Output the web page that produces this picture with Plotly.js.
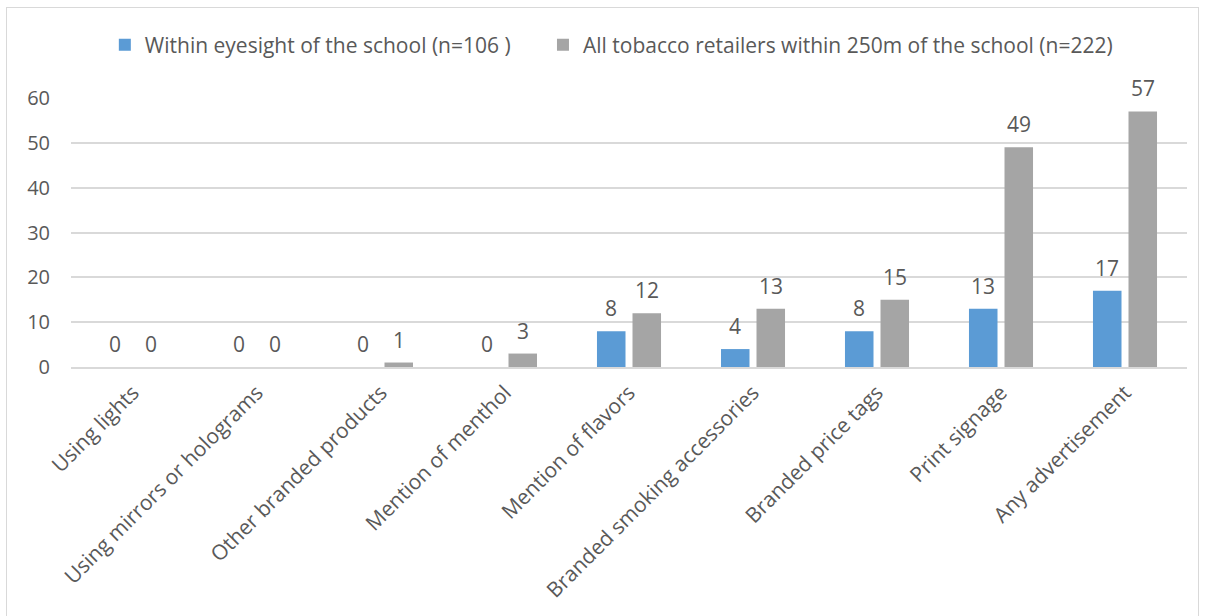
<!DOCTYPE html>
<html>
<head>
<meta charset="utf-8">
<script src="https://cdn.plot.ly/plotly-3.0.1.min.js"></script>
<style>
  html, body { margin: 0; padding: 0; background: #fff; }
  #frame { position: absolute; left: 6px; top: 7px; width: 1193px; height: 640px;
           border: 1px solid #d9d9d9; box-sizing: border-box; }
  #chart { position: absolute; left: 0; top: 0; width: 1205px; height: 616px; }
</style>
</head>
<body>
<div id="frame"></div>
<div id="chart"></div>
<script>
// Advertisement types observed at tobacco retailers
const categories = [
  "Using lights",
  "Using mirrors or holograms",
  "Other branded products",
  "Mention of menthol",
  "Mention of flavors",
  "Branded smoking accessories",
  "Branded price tags",
  "Print signage",
  "Any advertisement"
];
const withinEyesight = [0, 0, 0, 0, 8, 4, 8, 13, 17];
const within250m = [0, 0, 1, 3, 12, 13, 15, 49, 57];
const seriesNames = [
  "Within eyesight of the school (n=106 )",
  "All tobacco retailers within 250m of the school (n=222)"
];

const textColor = "#595959";
const fontFamily = "'Open Sans', 'Liberation Sans', sans-serif";
const barGap = 0.427;
const barGroupGap = 0.197;

const traces = [
  { type: "bar", name: seriesNames[0], x: categories, y: withinEyesight,
    marker: { color: "#5b9bd5" }, hoverinfo: "skip", legend: "legend" },
  { type: "bar", name: seriesNames[1], x: categories, y: within250m,
    marker: { color: "#a5a5a5" }, hoverinfo: "skip", legend: "legend2" }
];

// value labels above each bar, placed at the bar centres of the grouped layout
const slotOffset = (1 - barGap) / 4;
const labelFont = { size: 21, color: textColor, family: fontFamily };
const annotations = [];
[withinEyesight, within250m].forEach((vals, s) => {
  vals.forEach((v, i) => {
    annotations.push({
      xref: "x", yref: "y", x: i + (s === 0 ? -slotOffset : slotOffset), y: v,
      text: String(v), showarrow: false, yanchor: "middle", yshift: 23,
      font: labelFont
    });
  });
});

const legendBase = {
  orientation: "h", xref: "container", yref: "container",
  xanchor: "left", y: 1 - 45 / 616, yanchor: "middle",
  font: { size: 21, color: textColor, family: fontFamily }
};

const layout = {
  width: 1205, height: 616,
  margin: { l: 71, r: 18, t: 98, b: 249 },
  paper_bgcolor: "rgba(0,0,0,0)", plot_bgcolor: "rgba(0,0,0,0)",
  font: { family: fontFamily, color: textColor, size: 21 },
  barmode: "group", bargap: barGap, bargroupgap: barGroupGap,
  showlegend: true,
  legend: Object.assign({}, legendBase, { x: 0.087 }),
  legend2: Object.assign({}, legendBase, { x: 0.4506 }),
  xaxis: {
    type: "category", tickangle: -45, showgrid: false, showline: true,
    linecolor: "#d9d9d9", linewidth: 2, ticks: "", ticklabelstandoff: 3,
    tickfont: { size: 21, color: textColor }
  },
  yaxis: {
    range: [0, 60], dtick: 10, showgrid: true, gridcolor: "#d9d9d9", gridwidth: 2,
    zeroline: false, showline: false, ticks: "", ticklabelstandoff: 20,
    tickfont: { size: 20, color: textColor }
  },
  annotations: annotations
};

Plotly.newPlot("chart", traces, layout, { displayModeBar: false, staticPlot: true });
</script>
</body>
</html>
